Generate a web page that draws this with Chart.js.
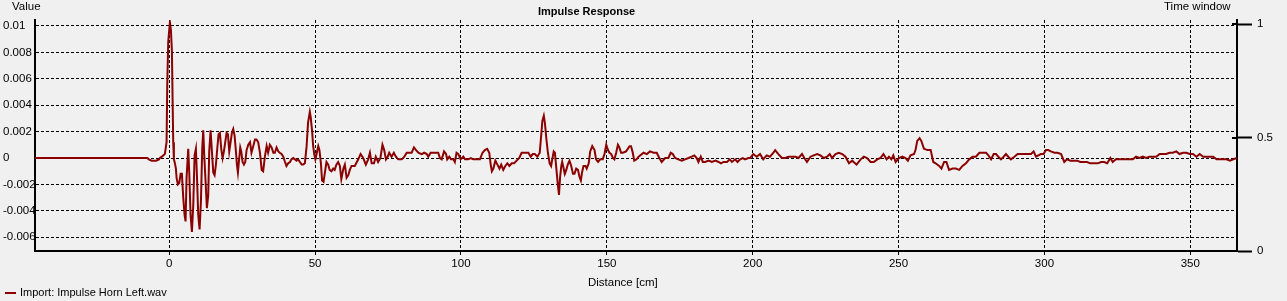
<!DOCTYPE html>
<html>
<head>
<meta charset="utf-8">
<title>Impulse Response</title>
<script src="https://cdn.jsdelivr.net/npm/chart.js@4.4.1/dist/chart.umd.min.js"></script>
<style>
  html, body { margin: 0; padding: 0; background: #f0f0f0; }
  #wrap { width: 1287px; height: 301px; }
</style>
</head>
<body>
<div id="wrap"><canvas id="ir-chart" width="1287" height="301"></canvas></div>
<script>
// ==========================================
// DATA
// ==========================================
const distanceCm = [
  -46, -7.5, -7, -6, -4.5, -3.5, -3.2, -2.5, -1.5, -0.9, -0.67, -0.33, 0.24, 0.58, 0.93, 1.15, 1.38, 1.61, 1.95, 2.3,
  2.53, 2.98, 3.44, 3.9, 4.35, 4.81, 5.27, 5.61, 5.95, 6.52, 6.87, 7.32, 7.78, 8.24, 8.7, 9.15, 9.5, 9.95, 10.41, 10.87,
  11.32, 11.67, 12.01, 12.47, 12.92, 13.38, 13.72, 14.18, 14.64, 15.1, 15.55, 16.01, 16.47, 16.92, 17.38, 17.84, 18.3, 18.75, 19.21, 19.67,
  20.12, 20.58, 21.04, 21.49, 21.95, 22.41, 22.87, 23.21, 23.55, 24.01, 24.35, 24.7, 25.15, 25.61, 26.07, 26.52, 27.1, 27.7, 28.2, 28.8,
  29.4, 29.9, 30.5, 31.1, 31.7, 32.2, 32.8, 33.4, 33.9, 34.5, 35.1, 35.7, 36.2, 36.8, 37.4, 37.9, 38.5, 39.1, 39.7, 40.2,
  40.8, 41.4, 41.9, 42.5, 43.1, 43.6, 44.2, 44.8, 45.4, 45.9, 46.5, 47.1, 47.6, 48.2, 48.5, 49.0, 49.3, 49.7, 50.1, 50.6,
  51.1, 51.5, 52.0, 52.4, 52.9, 53.3, 53.9, 54.5, 55.0, 55.6, 56.2, 56.7, 57.3, 57.9, 58.5, 59.0, 59.7, 60.2, 60.8, 61.4,
  61.9, 62.5, 63.6, 64.8, 65.6, 66.5, 67.4, 68.2, 68.8, 69.4, 70.2, 70.8, 71.6, 72.4, 73.1, 73.7, 74.3, 74.9, 75.4, 76.2,
  77.0, 77.7, 78.5, 79.7, 80.6, 81.4, 82.5, 83.1, 83.9, 84.6, 85.4, 86.5, 87.4, 88.3, 88.8, 89.6, 90.5, 91.4, 92.2, 92.8,
  93.4, 94.2, 94.9, 95.3, 96.0, 96.6, 97.4, 97.9, 98.5, 99.1, 99.9, 100.8, 101.4, 102.5, 103.4, 104.2, 105.4, 106.5, 107.4, 108.2,
  109.0, 109.7, 110.2, 110.6, 111.1, 111.8, 112.5, 113.2, 113.8, 114.5, 115.2, 115.9, 116.6, 117.4, 118.2, 119.1, 120.0, 120.8, 121.6, 122.3,
  123.1, 123.9, 124.6, 125.3, 126.2, 127.0, 127.5, 127.9, 128.4, 128.8, 129.3, 129.8, 130.4, 130.9, 131.3, 131.8, 132.2, 132.7, 133.2, 133.6,
  134.0, 134.4, 134.7, 135.2, 135.6, 136.1, 136.6, 137.2, 137.8, 138.4, 138.9, 139.5, 140.1, 140.6, 141.1, 141.5, 142.0, 142.7, 143.1, 143.8,
  144.3, 145.0, 145.8, 146.3, 147.0, 147.7, 148.6, 149.2, 149.8, 150.4, 150.9, 151.5, 152.1, 152.6, 153.2, 153.8, 154.3, 154.9, 155.5, 156.6,
  157.8, 158.3, 158.9, 159.4, 160.2, 160.9, 162.6, 163.7, 164.8, 166.0, 167.1, 168.0, 168.8, 170.0, 171.1, 171.9, 172.6, 173.4, 174.5, 175.7,
  176.8, 178.0, 179.1, 180.0, 180.8, 181.4, 182.2, 182.9, 183.7, 184.9, 186.0, 187.2, 188.3, 189.1, 190.0, 191.2, 192.1, 192.9, 194.0, 194.8,
  195.7, 196.6, 197.4, 198.5, 199.1, 200.2, 201.4, 202.5, 203.6, 204.8, 205.9, 207.1, 207.7, 208.8, 210.0, 211.1, 212.3, 213.4, 214.6, 215.7,
  216.9, 217.7, 218.6, 219.8, 220.9, 222.1, 223.2, 224.4, 225.5, 226.4, 227.2, 228.4, 229.5, 230.7, 231.8, 233.0, 234.1, 235.6, 237.0, 238.1,
  239.2, 240.4, 241.5, 242.7, 243.8, 244.8, 245.9, 246.7, 247.5, 248.2, 249.0, 250.1, 251.3, 252.4, 253.2, 254.1, 255.3, 255.8, 256.4, 257.2,
  257.8, 258.7, 259.9, 261.0, 261.9, 262.7, 263.9, 264.7, 265.6, 266.4, 267.3, 268.5, 269.6, 270.8, 271.9, 273.1, 274.2, 275.4, 276.5, 277.7,
  278.8, 280.0, 280.8, 281.7, 282.6, 283.4, 284.2, 285.1, 286.0, 286.8, 287.6, 288.5, 289.7, 290.8, 292.0, 293.1, 294.3, 295.4, 296.3, 297.1,
  297.9, 298.8, 299.7, 300.5, 301.3, 302.2, 303.4, 304.5, 305.7, 306.8, 307.7, 308.9, 310.0, 311.2, 312.3, 313.5, 314.6, 315.7, 317.1, 318.3,
  319.4, 320.5, 321.5, 322.6, 323.4, 324.5, 325.7, 326.8, 328.0, 329.1, 330.3, 331.4, 332.6, 333.7, 334.9, 336.0, 337.2, 338.3, 339.5, 340.6,
  341.7, 342.9, 344.0, 345.2, 346.3, 347.5, 348.6, 349.8, 350.9, 352.1, 353.2, 354.4, 355.5, 356.7, 357.8, 359.0, 360.1, 361.3, 362.4, 363.6,
  364.7, 365.9
];

const impulseValue = [
  0, 0, -0.0001, -0.0002, -0.0002, -0.0001, 0, 0.0001, 0.0003, 0.0012, 0.0055, 0.0088, 0.0103, 0.0097, 0.0081, 0.0046, 0.0012, -0.0001, -0.0004, -0.0008,
  -0.0015, -0.002, -0.0019, -0.0012, -0.0012, -0.003, -0.0043, -0.0048, -0.0015, 0.0007, -0.0011, -0.0043, -0.0056, -0.0036, 0.0002, 0.0007, -0.0013, -0.0043, -0.0054, -0.0033,
  0.0007, 0.0021, 0.0002, -0.0018, -0.0038, -0.0028, 0.0005, 0.0021, 0.0005, -0.0011, -0.0013, -0.0005, 0.0007, 0.0018, 0.0019, 0.0007, 0, 0.0005, 0.0012, 0.0019,
  0.0018, 0.0005, 0.0012, 0.0019, 0.0022, 0.0017, 0.0005, -0.0005, -0.0011, 0, 0.0008, 0.0005, -0.0003, -0.0005, -0.0003, 0.0006, 0.001, 0.0012, 0.0004, 0.0009,
  0.0014, 0.0014, 0.0012, 0.0004, -0.0009, -0.001, 0.0001, 0.0009, 0.0004, 0.001, 0.0008, 0.0004, 0.0004, 0.0008, 0.0005, 0.0004, 0.0003, 0.0001, -0.0003, -0.0006,
  -0.0004, -0.0003, -0.0001, 0, -0.0001, -0.0002, -0.0001, -0.0003, -0.0005, -0.0005, -0.0004, 0.0009, 0.0027, 0.0035, 0.0031, 0.002, 0.001, 0.0003, -0.0001, 0.0004,
  0.0009, 0.0006, -0.0004, -0.0017, -0.0018, -0.0012, -0.0003, -0.0005, -0.0009, -0.001, -0.0008, -0.0009, -0.0005, -0.0003, -0.0006, -0.0016, -0.0008, -0.0005, -0.0015, -0.0013,
  -0.0009, -0.0006, -0.0006, -0.0001, 0.0003, 0, -0.0005, -0.0001, 0.0004, -0.0004, -0.0004, 0.0001, -0.0003, 0, 0.001, 0.0006, -0.0001, 0.0001, 0.0004, 0.0001,
  0.0004, 0.0001, -0.0001, -0.0001, 0.0001, 0.0004, 0.0004, 0.0004, 0.0008, 0.0006, 0.0004, 0.0003, 0.0004, 0.0003, 0.0001, 0.0004, 0.0004, 0.0004, 0.0004, 0,
  -0.0001, 0.0005, 0.0003, -0.0001, 0.0001, -0.0001, -0.0001, -0.0003, 0.0004, 0.0003, -0.0001, 0.0001, -0.0001, -0.0001, 0, -0.0001, -0.0001, -0.0001, 0.0004, 0.0006,
  0.0007, 0.0004, -0.0005, -0.001, -0.0008, -0.0002, -0.0005, -0.0008, -0.0005, -0.0009, -0.0006, -0.0004, -0.0006, -0.0004, -0.0004, -0.0002, 0, 0.0004, 0.0004, 0.0004,
  0.0004, 0.0001, 0.0003, 0.0003, 0.0001, 0.0004, 0.0017, 0.0028, 0.0032, 0.0026, 0.0014, 0.0004, -0.0004, -0.0006, -0.0001, 0.0005, 0.0004, -0.0008, -0.002, -0.0028,
  -0.0014, -0.0006, -0.0003, -0.0008, -0.0012, -0.0009, -0.0005, -0.0002, -0.0006, -0.0012, -0.0012, -0.0008, -0.0009, -0.0014, -0.0017, -0.0011, -0.0006, -0.0006, -0.0008, -0.0004,
  0.0005, 0.0009, 0.0006, -0.0001, -0.0003, -0.0001, -0.0001, 0.0003, 0.001, 0.0006, 0.0004, 0.0003, 0, -0.0001, 0.0004, 0.001, 0.0008, 0.0004, 0.0004, 0.0005,
  0.0009, 0.0009, 0.0004, -0.0002, -0.0001, 0.0001, 0.0004, 0.0003, 0.0005, 0.0004, 0.0004, 0, -0.0003, 0, 0, 0.0004, 0.0003, 0, -0.0001, -0.0002,
  -0.0001, 0, 0.0001, 0.0002, 0, -0.0003, 0.0001, -0.0003, -0.0003, -0.0002, -0.0003, -0.0002, -0.0003, -0.0004, -0.0003, -0.0003, -0.0001, -0.0003, -0.0001, -0.0003,
  -0.0001, 0, -0.0001, 0, 0, 0.0003, 0.0001, 0.0003, -0.0001, 0.0002, 0.0001, 0.0004, 0.0006, 0.0003, 0, 0, 0.0001, 0.0001, 0.0001, 0,
  0.0003, 0, -0.0003, 0.0001, 0.0002, 0.0003, 0.0002, 0, 0.0001, 0.0003, 0, 0.0003, 0.0004, 0.0003, 0.0001, -0.0004, -0.0002, -0.0005, -0.0001, 0.0001,
  0, -0.0003, -0.0003, -0.0001, 0, 0.0003, -0.0001, 0.0001, -0.0001, 0.0002, -0.0003, 0, 0.0001, 0, -0.0002, 0.0002, 0.0003, 0.0006, 0.0013, 0.0015,
  0.0013, 0.0007, 0.0006, 0.0006, -0.0003, -0.0004, -0.0006, -0.0008, -0.0003, -0.0003, -0.0009, -0.0008, -0.0008, -0.0009, -0.0006, -0.0004, -0.0001, 0.0001, 0.0001, 0.0004,
  0.0004, 0.0004, 0.0002, -0.0001, 0.0003, 0.0003, 0.0001, -0.0001, 0.0001, 0.0003, 0.0001, -0.0001, 0.0001, 0.0003, 0.0003, 0.0003, 0.0003, 0.0003, 0.0005, 0.0001,
  0.0002, 0.0003, 0.0003, 0.0006, 0.0006, 0.0005, 0.0004, 0.0004, 0.0003, -0.0003, -0.0001, -0.0002, -0.0002, -0.0002, -0.0003, -0.0003, -0.0003, -0.0004, -0.0004, -0.0004,
  -0.0003, -0.0003, -0.0004, 0, -0.0003, -0.0001, -0.0001, -0.0001, -0.0001, -0.0001, -0.0001, 0.0001, 0, 0.0001, 0, 0.0001, 0.0001, 0.0001, 0.0003, 0.0003,
  0.0003, 0.0004, 0.0004, 0.0005, 0.0003, 0.0004, 0.0004, 0.0003, 0.0003, 0.0001, 0.0003, 0.0001, 0.0001, 0.0001, 0.0001, -0.0001, -0.0001, -0.0001, -0.0001, -0.0002,
  -0.0001, 0
];

const distanceTicks = [0, 50, 100, 150, 200, 250, 300, 350];
const valueTicks = [-0.006, -0.004, -0.002, 0, 0.002, 0.004, 0.006, 0.008, 0.01];
const windowTicks = [0, 0.5, 1];

const seriesName = 'Import: Impulse Horn Left.wav';
const LINE_COLOR = '#8b0000';
const FONT = "'Liberation Sans', Arial, sans-serif";

// ==========================================
// TEKS TAMBAHAN (judul, label sumbu, legend)
// ==========================================
const extraText = {
  id: 'extraText',
  afterDraw(chart) {
    const ctx = chart.ctx;
    ctx.save();
    ctx.textBaseline = 'middle';
    ctx.fillStyle = '#000';

    ctx.font = '11.5px ' + FONT;
    ctx.textAlign = 'left';
    ctx.fillText('Value', 12, 7);
    ctx.fillText('Time window', 1164, 7);
    ctx.fillText('Distance [cm]', 588, 283);

    ctx.font = 'bold 11px ' + FONT;
    ctx.fillText('Impulse Response', 538, 12);

    // legend
    ctx.strokeStyle = LINE_COLOR;
    ctx.lineWidth = 2;
    ctx.beginPath();
    ctx.moveTo(5, 293);
    ctx.lineTo(16, 293);
    ctx.stroke();
    ctx.font = '11px ' + FONT;
    ctx.fillText(seriesName, 20, 293);

    // tick kecil ke dalam di sumbu kanan
    const y1 = chart.scales.y1;
    const right = chart.chartArea.right;
    ctx.strokeStyle = '#000';
    windowTicks.slice(1).forEach(v => {
      const py = Math.round(y1.getPixelForValue(v));
      ctx.beginPath();
      ctx.moveTo(right - 5, py);
      ctx.lineTo(right, py);
      ctx.stroke();
    });
    ctx.restore();
  }
};

const setTicks = (list) => (scale) => { scale.ticks = list.map(v => ({ value: v })); };

new Chart(document.getElementById('ir-chart').getContext('2d'), {
  type: 'line',
  data: {
    datasets: [{
      label: seriesName,
      data: distanceCm.map((d, i) => ({ x: d, y: impulseValue[i] })),
      borderColor: LINE_COLOR,
      borderWidth: 2,
      pointRadius: 0,
      tension: 0,
      fill: false,
      yAxisID: 'y'
    }]
  },
  options: {
    responsive: false,
    animation: false,
    layout: { padding: { top: 20, left: 3, right: 0, bottom: 0 } },
    plugins: { legend: { display: false }, title: { display: false }, tooltip: { enabled: false } },
    scales: {
      x: {
        type: 'linear',
        min: -46,
        max: 366,
        afterBuildTicks: setTicks(distanceTicks),
        afterFit: (s) => { s.height = 50; },
        grid: { color: '#000', lineWidth: 1, tickLength: 4, tickBorderDash: [3, 2], tickColor: '#000' },
        border: { display: true, color: '#000', width: 2, dash: [3, 2] },
        ticks: { color: '#000', font: { family: FONT, size: 11.5 }, padding: 2, maxRotation: 0 }
      },
      y: {
        position: 'left',
        min: -0.00704,
        max: 0.01045,
        afterBuildTicks: setTicks(valueTicks),
        afterFit: (s) => { s.width = 32; },
        grid: { color: '#000', lineWidth: 1, drawTicks: false },
        border: { display: true, color: '#000', width: 2, dash: [3, 2] },
        ticks: {
          color: '#000',
          font: { family: FONT, size: 11.5 },
          crossAlign: 'far',
          callback: (v) => String(+v.toFixed(3))
        }
      },
      y1: {
        position: 'right',
        min: 0,
        max: 1.019,
        afterBuildTicks: setTicks(windowTicks),
        afterFit: (s) => { s.width = 50; },
        grid: { drawOnChartArea: false, tickLength: 15, tickWidth: 2, tickColor: '#000' },
        border: { display: true, color: '#000', width: 2 },
        ticks: { color: '#000', font: { family: FONT, size: 11.5 }, padding: 5, callback: (v) => String(v) }
      }
    }
  },
  plugins: [extraText]
});
</script>
</body>
</html>
